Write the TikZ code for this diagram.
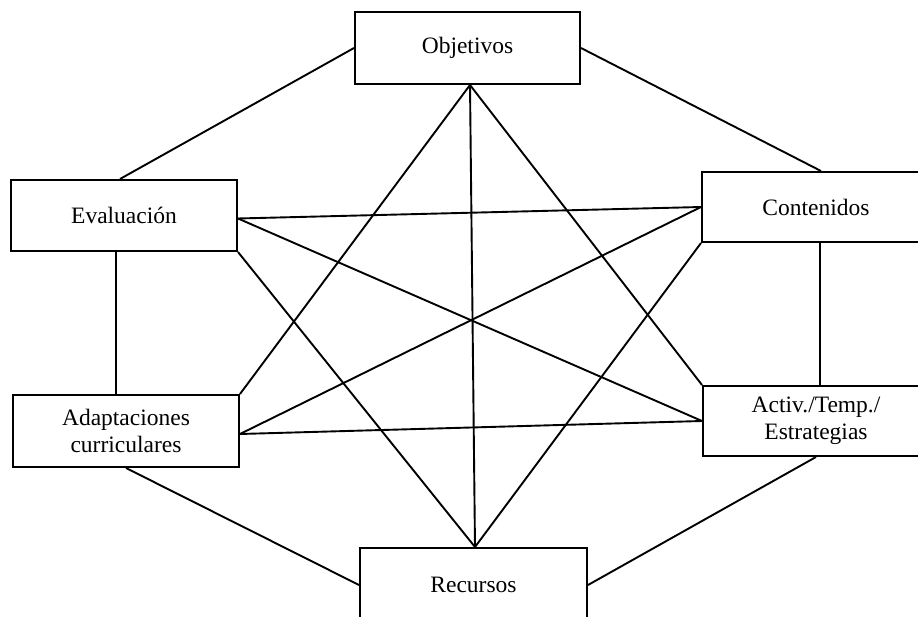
\documentclass[tikz,border=0pt]{standalone}
\usepackage{fontspec}
\setmainfont{Liberation Serif}
\begin{document}
\begin{tikzpicture}[x=1pt,y=-1pt,
  box/.style={draw, line width=2pt, fill=white, inner sep=0pt, align=center,
    font=\fontsize{23.5}{27}\selectfont},
  link/.style={line width=1.9pt}]
\useasboundingbox (0,0) rectangle (918,617);
\node[box, minimum width=225pt, minimum height=72pt] (obj) at (467.5,48) {Objetivos};
\node[box, minimum width=226pt, minimum height=71pt] (eva) at (124,215.5) {Evaluación};
\node[box, minimum width=228pt, minimum height=70pt] (cont) at (816,207) {Contenidos};
\node[box, minimum width=226pt, minimum height=72pt] (adap) at (126,431) {Adaptaciones\\curriculares};
\node[box, minimum width=226pt, minimum height=70pt] (act) at (816,421) {Activ./Temp./\\Estrategias};
\node[box, minimum width=227pt, minimum height=74pt] (rec) at (473.5,585) {Recursos};
% outer ring
\draw[link] ([xshift=-4pt]eva.north) -- (obj.west);
\draw[link] (obj.east) -- ([xshift=5pt]cont.north);
\draw[link] ([xshift=-8pt]eva.south) -- ([xshift=-10pt]adap.north);
\draw[link] ([xshift=4pt]cont.south) -- ([xshift=4pt]act.north);
\draw[link] (adap.south) -- (rec.west);
\draw[link] (act.south) -- (rec.east);
% star
\draw[link] ([xshift=2.5pt]obj.south) -- (adap.north east);
\draw[link] ([xshift=2.5pt]obj.south) -- (act.north west);
\draw[link] ([xshift=2.5pt]obj.south) -- ([xshift=1.5pt]rec.north);
\draw[link] ([xshift=1.5pt]rec.north) -- (eva.south east);
\draw[link] ([xshift=1.5pt]rec.north) -- (cont.south west);
\draw[link] ([yshift=-3pt]eva.east) -- (cont.west);
\draw[link] ([yshift=-3pt]eva.east) -- (act.west);
\draw[link] ([yshift=-3pt]adap.east) -- (cont.west);
\draw[link] ([yshift=-3pt]adap.east) -- (act.west);
\end{tikzpicture}
\end{document}
